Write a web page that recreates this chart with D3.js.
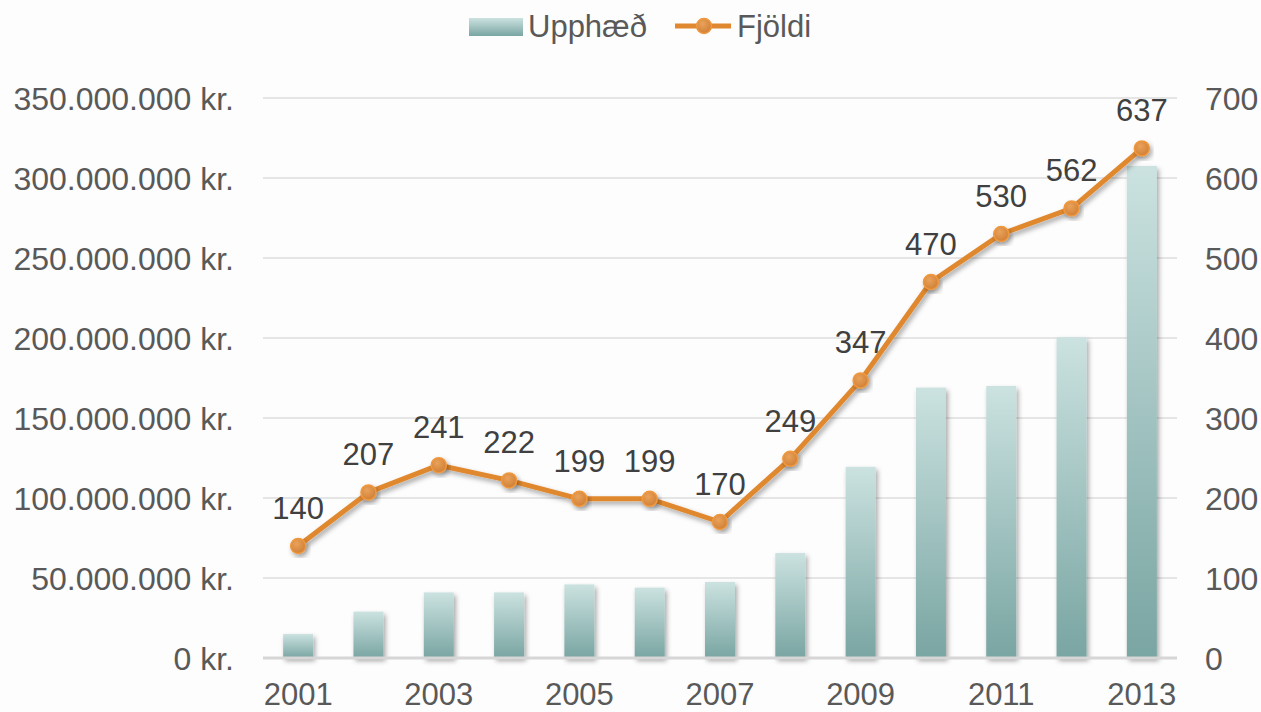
<!DOCTYPE html>
<meta charset="utf-8">
<script src="https://d3js.org/d3.v7.min.js"></script>
<style>
  body { margin: 0; background: #fdfdfd; }
  text { font-family: "Liberation Sans", Arial, Helvetica, sans-serif; fill: #595959; }
</style>
<body>
<div id="chart"></div>
<script>

// data
var years = ["2001","2002","2003","2004","2005","2006","2007","2008","2009","2010","2011","2012","2013"]
var amount = [15e6, 29e6, 41e6, 41e6, 46e6, 44e6, 47.5e6, 65.6e6, 119.5e6, 169e6, 170e6, 200.5e6, 307.5e6]
var count = [140, 207, 241, 222, 199, 199, 170, 249, 347, 470, 530, 562, 637]
var leftTicks = [0, 50e6, 100e6, 150e6, 200e6, 250e6, 300e6, 350e6]
var rightTicks = [0, 100, 200, 300, 400, 500, 600, 700]
var shownYears = ["2001","2003","2005","2007","2009","2011","2013"]

var width = 1261,
    height = 712,
    plotLeft = 263, plotRight = 1177, plotTop = 98, plotBottom = 658

var svg = d3.select("#chart").append("svg")
    .attr("width", width)
    .attr("height", height)

var defs = svg.append("defs")
var grad = defs.append("linearGradient").attr("id", "barGrad")
    .attr("x1", 0).attr("y1", 0).attr("x2", 0).attr("y2", 1)
grad.append("stop").attr("offset", "0%").attr("stop-color", "#cbe2e0")
grad.append("stop").attr("offset", "100%").attr("stop-color", "#79a5a2")

var dotGrad = defs.append("radialGradient").attr("id", "dotGrad")
    .attr("cx", "40%").attr("cy", "35%").attr("r", "70%")
dotGrad.append("stop").attr("offset", "0%").attr("stop-color", "#eaa25a")
dotGrad.append("stop").attr("offset", "100%").attr("stop-color", "#cf7e34")

var shadow = defs.append("filter").attr("id", "shadow")
    .attr("x", "-30%").attr("y", "-30%").attr("width", "160%").attr("height", "160%")
shadow.append("feDropShadow").attr("dx", 2).attr("dy", 3).attr("stdDeviation", 2.5)
    .attr("flood-color", "#000").attr("flood-opacity", 0.35)

var x = d3.scaleBand().domain(years).range([plotLeft, plotRight])
var yL = d3.scaleLinear().domain([0, 350e6]).range([plotBottom, plotTop])
var yR = d3.scaleLinear().domain([0, 700]).range([plotBottom, plotTop])
var cx = function(d){ return x(d) + x.bandwidth() / 2 }

// gridlines
svg.append("g").selectAll("line")
  .data(leftTicks.slice(1))
  .enter().append("line")
    .attr("x1", plotLeft).attr("x2", plotRight)
    .attr("y1", function(d){ return yL(d) }).attr("y2", function(d){ return yL(d) })
    .attr("stroke", "#dcdcdc").attr("stroke-width", 1.5)

// left axis labels
var fmt = function(d){ return d3.format(",")(d).replace(/,/g, ".") + " kr." }
svg.append("g").selectAll("text")
  .data(leftTicks)
  .enter().append("text")
    .attr("x", 234)
    .attr("y", function(d){ return yL(d) })
    .attr("dy", "0.36em")
    .attr("text-anchor", "end")
    .style("font-size", "32px")
    .text(fmt)

// right axis labels
svg.append("g").selectAll("text")
  .data(rightTicks)
  .enter().append("text")
    .attr("x", 1205)
    .attr("y", function(d){ return yR(d) })
    .attr("dy", "0.36em")
    .style("font-size", "32px")
    .text(function(d){ return d })

// bars
svg.append("g").selectAll("rect")
  .data(years)
  .enter().append("rect")
    .attr("x", function(d){ return cx(d) - 15 })
    .attr("width", 30)
    .attr("y", function(d, i){ return yL(amount[i]) })
    .attr("height", function(d, i){ return plotBottom - yL(amount[i]) })
    .attr("fill", "url(#barGrad)")
    .attr("filter", "url(#shadow)")

// x axis line
svg.append("line")
    .attr("x1", plotLeft).attr("x2", plotRight)
    .attr("y1", plotBottom).attr("y2", plotBottom)
    .attr("stroke", "#d6d6d6").attr("stroke-width", 3)

// x labels
svg.append("g").selectAll("text")
  .data(shownYears)
  .enter().append("text")
    .attr("x", cx)
    .attr("y", 705)
    .attr("text-anchor", "middle")
    .style("font-size", "31px")
    .text(function(d){ return d })

// data labels
svg.append("g").selectAll("text")
  .data(years)
  .enter().append("text")
    .attr("x", cx)
    .attr("y", function(d, i){ return yR(count[i]) - 27 })
    .attr("text-anchor", "middle")
    .style("font-size", "31px")
    .style("fill", "#404040")
    .text(function(d, i){ return count[i] })

// line
var line = d3.line()
    .x(cx)
    .y(function(d, i){ return yR(count[i]) })
svg.append("path")
    .datum(years)
    .attr("d", line)
    .attr("fill", "none")
    .attr("stroke", "#e0882f")
    .attr("stroke-width", 5)
    .attr("stroke-linejoin", "round")
    .attr("filter", "url(#shadow)")

svg.append("g").selectAll("circle")
  .data(years)
  .enter().append("circle")
    .attr("cx", cx)
    .attr("cy", function(d, i){ return yR(count[i]) })
    .attr("r", 7.5)
    .attr("fill", "url(#dotGrad)")
    .attr("stroke", "#f0983e")
    .attr("stroke-width", 1.5)
    .attr("filter", "url(#shadow)")

// legend
var lg = svg.append("g")
lg.append("rect")
    .attr("x", 469).attr("y", 18).attr("width", 54).attr("height", 18)
    .attr("fill", "url(#barGrad)")
lg.append("text").attr("x", 528).attr("y", 37).style("font-size", "31px").text("Upphæð")
lg.append("line")
    .attr("x1", 675).attr("x2", 731).attr("y1", 26).attr("y2", 26)
    .attr("stroke", "#e0882f").attr("stroke-width", 5)
lg.append("circle")
    .attr("cx", 704).attr("cy", 26).attr("r", 7.5)
    .attr("fill", "url(#dotGrad)").attr("stroke", "#f0983e").attr("stroke-width", 1.5)
lg.append("text").attr("x", 737).attr("y", 37).style("font-size", "31px").text("Fjöldi")

</script>
</body>
